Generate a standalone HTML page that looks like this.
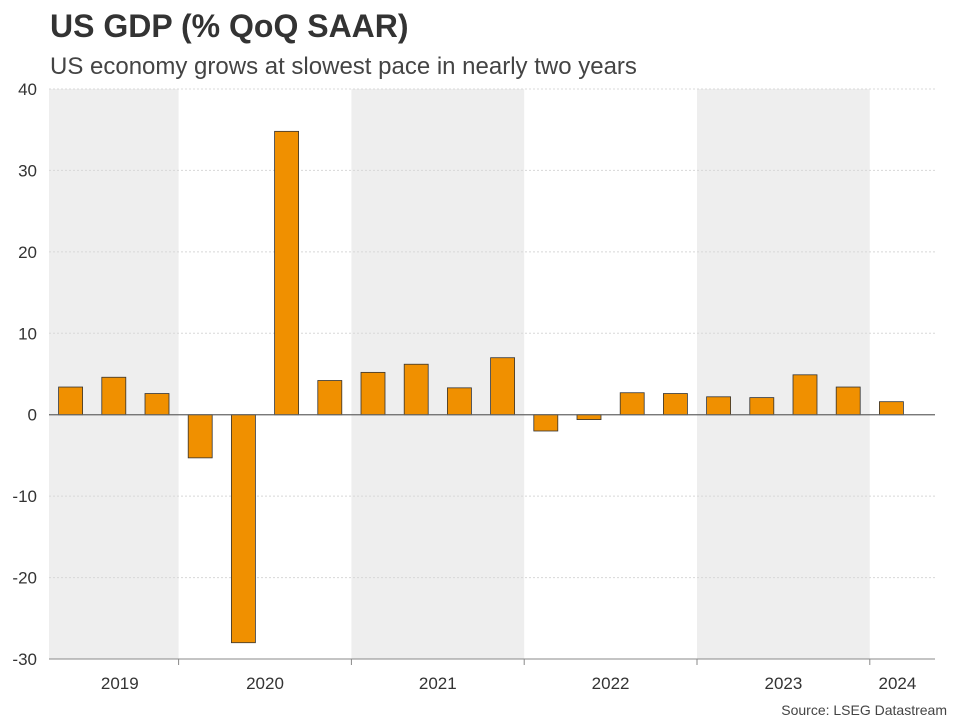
<!DOCTYPE html>
<html><head><meta charset="utf-8"><style>
body{margin:0;background:#fff;font-family:"Liberation Sans",sans-serif;}
svg text{font-family:"Liberation Sans",sans-serif;}
</style></head><body>
<svg id="chart" width="960" height="720">
<text x="50" y="37" font-size="32" font-weight="bold" fill="#333">US GDP (% QoQ SAAR)</text>
<text x="50" y="74" font-size="24" fill="#444">US economy grows at slowest pace in nearly two years</text>
<g id="bands"></g><g id="grid"></g><g id="bars"></g><g id="axes"></g>
<text x="947" y="715" font-size="14" fill="#444" text-anchor="end">Source: LSEG Datastream</text>
</svg>
<script>
const quarters=["2019Q2","2019Q3","2019Q4","2020Q1","2020Q2","2020Q3","2020Q4","2021Q1","2021Q2","2021Q3","2021Q4","2022Q1","2022Q2","2022Q3","2022Q4","2023Q1","2023Q2","2023Q3","2023Q4","2024Q1"];
const gdpValues=[3.4,4.6,2.6,-5.3,-28.0,34.8,4.2,5.2,6.2,3.3,7.0,-2.0,-0.6,2.7,2.6,2.2,2.1,4.9,3.4,1.6];
const yTicks=[40,30,20,10,0,-10,-20,-30];
const years=["2019","2020","2021","2022","2023","2024"];
const yearQuarterCounts=[3,4,4,4,4,1];
const NS="http://www.w3.org/2000/svg";
const L=49,R=935,T=89,B=659,slot=43.2,bw=24;
const y=v=>T+(40-v)/70*(B-T);
const x=i=>L+slot*(i+0.5);
function mk(p,tag,a){const e=document.createElementNS(NS,tag);for(const k in a)e.setAttribute(k,a[k]);p.appendChild(e);return e;}
const bands=document.getElementById('bands'),grid=document.getElementById('grid'),bars=document.getElementById('bars'),axes=document.getElementById('axes');
let start=0;
years.forEach((yr,k)=>{
  const x0=L+start*slot;let x1=L+(start+yearQuarterCounts[k])*slot;if(k===years.length-1)x1=R;
  if(k%2===0&&k<years.length-1){const r=mk(bands,'rect',{x:x0,y:T,width:x1-x0,height:B-T,fill:'#eeeeee'});
  
  }
  let cx=(x0+x1)/2;if(k===0)cx+=6;if(k===years.length-1)cx-=5;
  const t=mk(axes,'text',{x:cx,y:689,'font-size':17,fill:'#333','text-anchor':'middle'});t.textContent=yr;
  
  
  if(k>0){const tk=mk(axes,'line',{x1:x0,x2:x0,y1:B,y2:B+6,stroke:'#888'});
  
  }
  start+=yearQuarterCounts[k];
});
yTicks.forEach(v=>{
  const g=mk(grid,'line',{x1:L,x2:R,y1:y(v),y2:y(v),stroke:v===0?'#666':'#d8d8d8','stroke-dasharray':v===0?'':'2,2','stroke-width':1});
  
  
  const t=mk(axes,'text',{x:37,y:y(v)+6,'font-size':17,fill:'#333','text-anchor':'end'});t.textContent=v;
  
  
});
gdpValues.forEach((v,i)=>{
  const r=mk(bars,'rect',{x:x(i)-bw/2,y:Math.min(y(v),y(0)),width:bw,height:Math.abs(y(v)-y(0)),fill:'#f09000',stroke:'#333','stroke-width':0.8});
  
  
});
const ax=mk(axes,'line',{x1:L,x2:R,y1:B,y2:B,stroke:'#888'});


const zl=mk(axes,'line',{x1:L,x2:R,y1:y(0),y2:y(0),stroke:'#666'});


</script>
</body></html>
